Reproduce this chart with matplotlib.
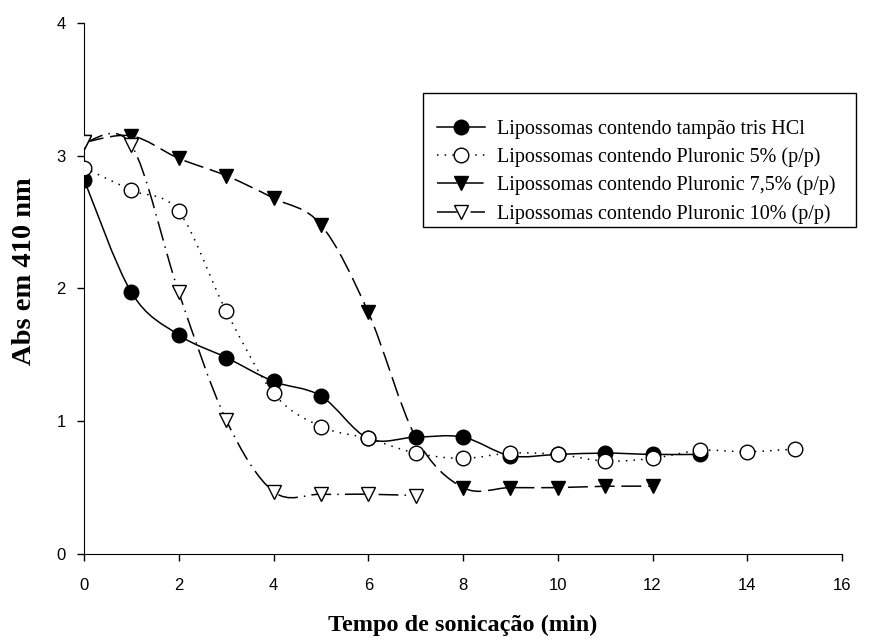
import numpy as np
import matplotlib
matplotlib.use('Agg')
import matplotlib.pyplot as plt
from matplotlib.path import Path
from matplotlib.patches import PathPatch, Rectangle
from matplotlib.lines import Line2D

# Absorbance at 410 nm vs sonication time
t_tris = [0, 1, 2, 3, 4, 5, 6, 7, 8, 9, 10, 11, 12, 13]
abs_tris = [2.82, 1.97, 1.65, 1.48, 1.30, 1.19, 0.87, 0.88, 0.88, 0.74, 0.75, 0.76, 0.75, 0.75]

t_p5 = [0, 1, 2, 3, 4, 5, 6, 7, 8, 9, 10, 11, 12, 13, 14, 15]
abs_p5 = [2.91, 2.74, 2.58, 1.83, 1.21, 0.96, 0.87, 0.76, 0.72, 0.76, 0.75, 0.70, 0.72, 0.78, 0.77, 0.79]

t_p75 = [0, 1, 2, 3, 4, 5, 6, 7, 8, 9, 10, 11, 12]
abs_p75 = [3.10, 3.15, 2.98, 2.85, 2.68, 2.48, 1.82, 0.88, 0.50, 0.50, 0.50, 0.51, 0.51]

t_p10 = [0, 1, 2, 3, 4, 5, 6, 7]
abs_p10 = [3.10, 3.08, 1.97, 1.01, 0.47, 0.45, 0.45, 0.44]

labels = ['Lipossomas contendo tampão tris HCl',
          'Lipossomas contendo Pluronic 5% (p/p)',
          'Lipossomas contendo Pluronic 7,5% (p/p)',
          'Lipossomas contendo Pluronic 10% (p/p)']

DOTTED = (0, (1, 4))
DASHED = (0, (13, 4.5))
DASHDOT = (0, (13, 4, 1, 4))


def smooth_path(x, y):
    """Catmull-Rom curve through the points, as cubic Bezier segments."""
    p = np.column_stack([x, y]).astype(float)
    pts = np.vstack([p[0], p, p[-1]])
    verts = [p[0]]
    codes = [Path.MOVETO]
    for i in range(1, len(pts) - 2):
        p0, p1, p2, p3 = pts[i - 1], pts[i], pts[i + 1], pts[i + 2]
        verts += [p1 + (p2 - p0) / 6, p2 - (p3 - p1) / 6, p2]
        codes += [Path.CURVE4] * 3
    return Path(verts, codes)


fig = plt.figure(figsize=(8.69, 6.44), dpi=100)
ax = fig.add_axes([0.0967, 0.1398, 0.8723, 0.8245])

# the 7.5% marker at 7 min sits under the tris HCl point, so it is not drawn
p75_marks = [i for i, t in enumerate(t_p75) if t != 7]

# (x, y, linestyle, marker, face colour, marker zorder, markevery)
series = [
    (t_tris, abs_tris, '-', 'o', 'black', 4, None),
    (t_p5, abs_p5, DOTTED, 'o', 'white', 5, None),
    (t_p75, abs_p75, DASHED, 'v', 'black', 3, p75_marks),
    (t_p10, abs_p10, DASHDOT, 'v', 'white', 6, None),
]

handles = []
for (x, y, ls, mk, fc, z, every), lab in zip(series, labels):
    ax.add_patch(PathPatch(smooth_path(x, y), fill=False, edgecolor='black',
                           linewidth=1.1, linestyle=ls, zorder=2))
    ax.plot(x, y, linestyle='none', marker=mk, markersize=10.5, markevery=every,
            markerfacecolor=fc, markeredgecolor='black', markeredgewidth=1.0,
            zorder=z)
    handles.append(Line2D([], [], color='black', linewidth=1.1, linestyle=ls,
                          marker=mk, markersize=10.5, markerfacecolor=fc,
                          markeredgecolor='black', label=lab))

ax.set_xlim(0, 16)
ax.set_ylim(0, 4)
ax.set_xticks(range(0, 17, 2))
ax.set_yticks(range(0, 5))
ax.spines['top'].set_visible(False)
ax.spines['right'].set_visible(False)
ax.tick_params(direction='out', length=5, width=1, labelsize=12)
ax.tick_params(axis='x', pad=12)
ax.tick_params(axis='y', pad=8)
for lbl in ax.get_xticklabels() + ax.get_yticklabels():
    lbl.set_family('Liberation Sans')

ax.set_xlabel('Tempo de sonicação (min)', family='Liberation Serif',
              fontweight='bold', fontsize=17.5)
ax.set_ylabel('Abs em 410 nm', family='Liberation Serif',
              fontweight='bold', fontsize=20.5)
ax.xaxis.set_label_coords(0.5, -0.134, transform=ax.transAxes)
ax.xaxis.label.set_va('center')
ax.yaxis.set_label_coords(-0.078, 0.533, transform=ax.transAxes)
ax.yaxis.label.set_va('center')

# legend entries without their own frame; the box is drawn separately
leg = ax.legend(handles=handles, loc='upper left', bbox_to_anchor=(0.5029, 0.8137),
                bbox_transform=fig.transFigure, borderaxespad=0, borderpad=0,
                frameon=False, handlelength=2.4, handletextpad=0.6,
                labelspacing=0.42, prop={'family': 'Liberation Serif', 'size': 14.5})
box = Rectangle((0.4868, 0.6475), 0.4983, 0.2081, transform=fig.transFigure,
                fill=False, edgecolor='black', linewidth=1.0, clip_on=False)
fig.patches.append(box)

plt.savefig('out.png', dpi=100)
